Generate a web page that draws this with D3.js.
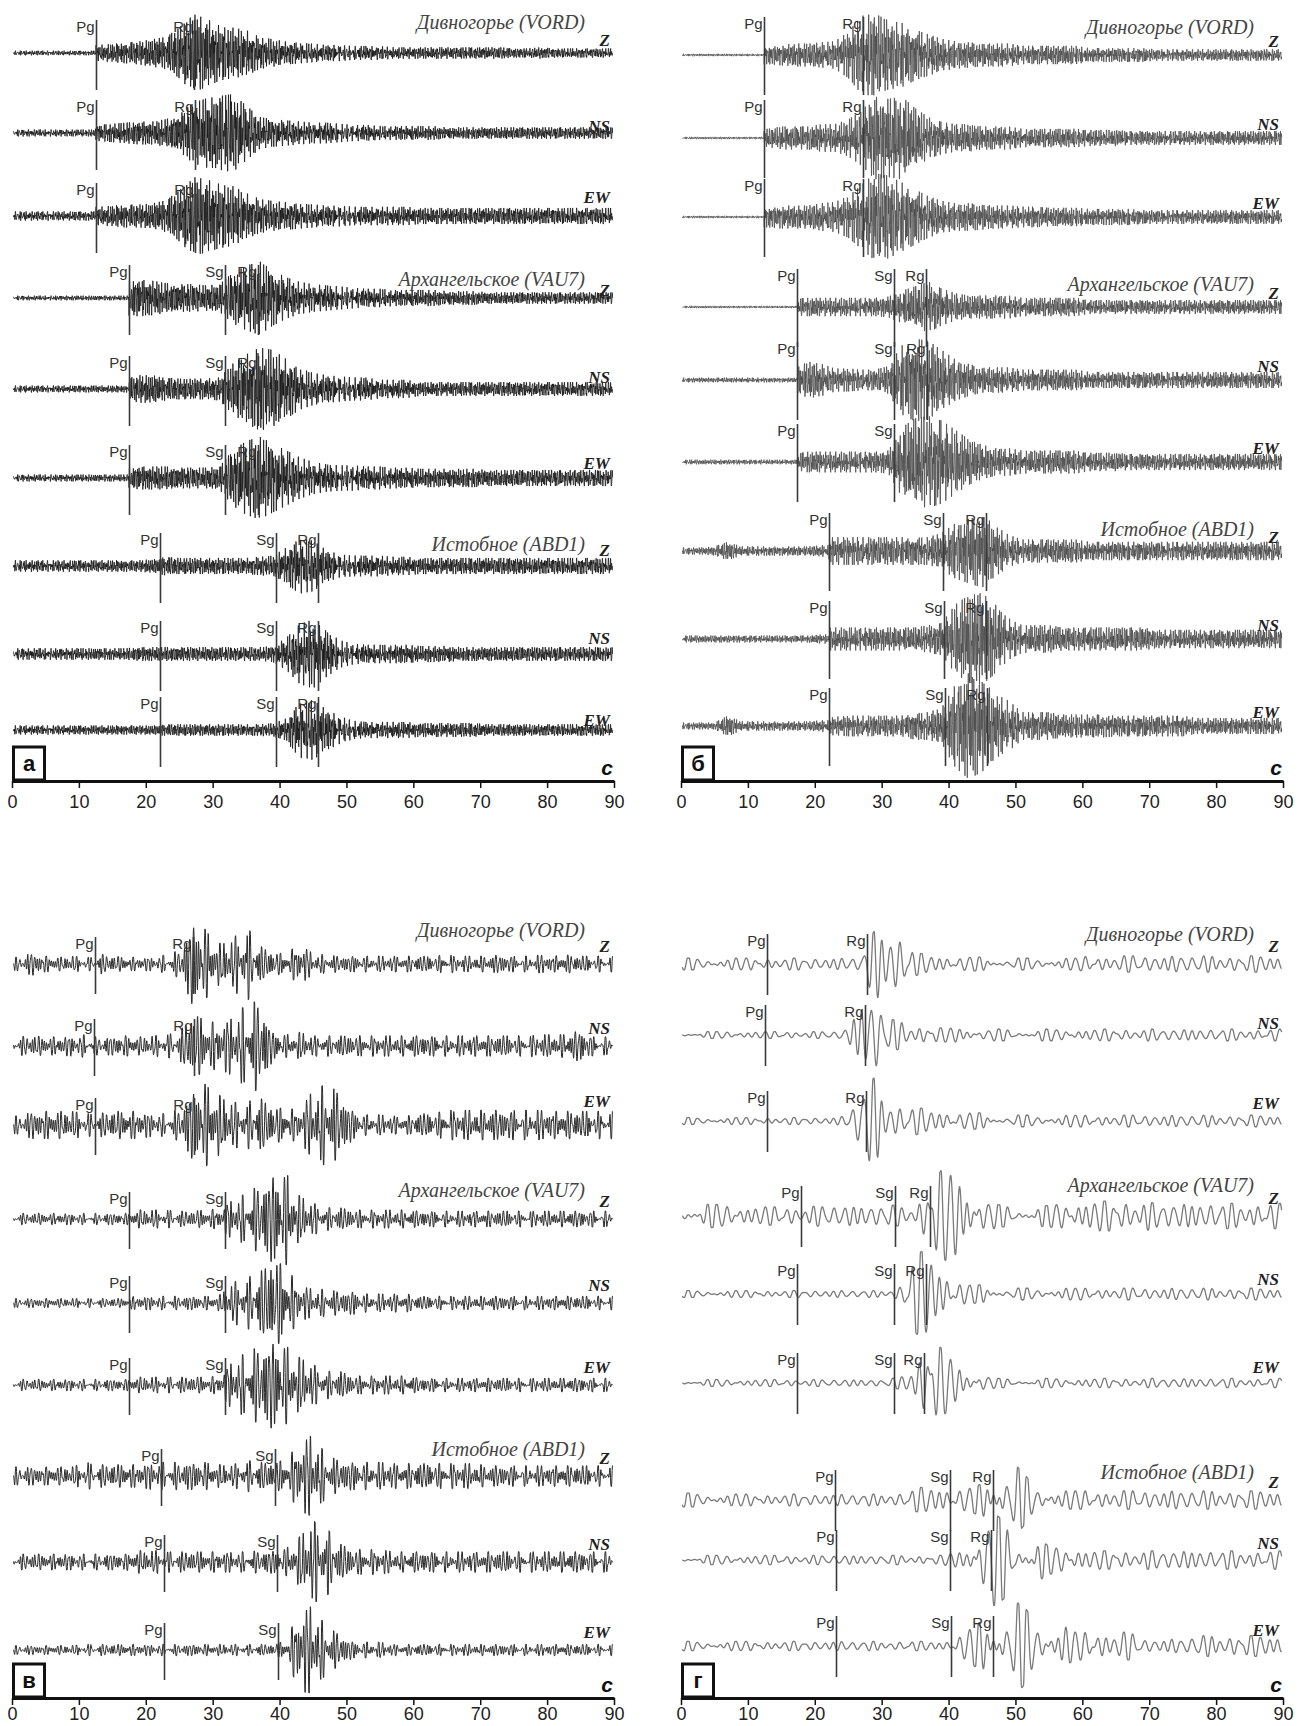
<!DOCTYPE html>
<html><head><meta charset="utf-8">
<script src="https://cdn.jsdelivr.net/npm/d3@7"></script>
<style>body{margin:0;background:#fff}svg{display:block}</style></head>
<body><svg id="chart" width="1306" height="1726"></svg>
<script>
// ---------------- DATA ----------------
const panelLetters = ["а", "б", "в", "г"];
const stations = ["Дивногорье (VORD)", "Архангельское (VAU7)", "Истобное (ABD1)"];
const components = ["Z", "NS", "EW"];
const tickValues = [0, 10, 20, 30, 40, 50, 60, 70, 80, 90];
const axisUnit = "с";

// phase arrival times, s: [Pg, Sg, Rg] per trace (null = not marked)
const phasesA = [[12.5,null,27.2],[12.5,null,27.3],[12.5,null,27.3],
                 [17.5,31.8,36.8],[17.5,31.8,36.8],[17.5,31.8,36.8],
                 [22.2,39.5,45.7],[22.2,39.5,45.7],[22.2,39.5,45.8]];
const phasesB = [[12.4,null,27.2],[12.4,null,27.2],[12.4,null,27.2],
                 [17.4,31.8,36.6],[17.4,31.8,36.8],[17.4,31.8,null],
                 [22.1,39.2,45.6],[22.1,39.3,45.6],[22.2,39.5,45.7]];
const phasesC = [[12.4,null,27.0],[12.2,null,27.2],[12.4,null,27.2],
                 [17.5,31.8,null],[17.5,31.8,null],[17.5,31.8,null],
                 [22.3,39.3,null],[22.7,39.6,null],[22.7,39.8,null]];
const phasesD = [[12.8,null,27.8],[12.6,null,27.5],[12.9,null,27.6],
                 [17.9,32.0,37.2],[17.4,31.8,36.6],[17.4,31.8,36.4],
                 [23.0,40.2,46.6],[23.1,40.2,46.4],[23.1,40.3,46.6]];

// amplitude envelopes (half-amplitude, px) read per 2-s window, 0–90 s
const envA = [
 [2,2,2,2,2, 2,7,8,9,10, 12,14,22,34,30, 24,22,20,14,12, 10,9,8,7,7, 6,6,6,5,5, 5,5,5,5,5, 5,5,4,4,5, 4,4,4,4,4],
 [3,3,3,3,3, 3,7,8,9,10, 10,12,16,26,30, 32,34,24,14,12, 11,10,9,9,8, 7,7,6,6,6, 6,6,5,5,5, 5,5,5,5,5, 5,5,5,5,5],
 [4,4,4,4,4, 4,8,9,10,10, 11,14,22,34,32, 28,26,20,15,13, 12,11,10,9,9, 8,8,8,8,8, 7,7,7,7,7, 7,7,7,7,7, 7,7,7,7,7],
 [2,2,2,2,2, 2,2,2,15,16, 15,13,12,12,11, 12,22,28,32,24, 18,14,12,11,10, 9,8,8,7,7, 7,7,6,6,6, 5,5,5,5,5, 5,5,5,5,5],
 [3,3,3,3,3, 3,3,3,9,12, 12,10,9,9,9, 10,22,30,36,34, 26,18,14,12,11, 10,10,8,8,8, 6,6,6,6,6, 6,6,6,6,6, 6,6,6,6,6],
 [3,3,3,3,3, 3,3,3,8,10, 10,10,9,9,9, 10,24,32,36,30, 24,18,14,12,11, 11,10,10,9,9, 8,8,8,8,8, 7,7,7,7,7, 7,7,7,7,7],
 [5,5,5,5,5, 5,5,5,5,5, 6,8,7,7,7, 7,7,7,8,9, 16,24,22,14,10, 9,9,9,8,8, 7,7,7,7,7, 7,7,7,7,7, 7,7,7,7,7],
 [5,5,5,5,5, 5,5,5,5,6, 6,6,6,6,6, 6,6,6,6,7, 14,26,30,20,12, 9,8,8,8,8, 7,7,7,6,6, 6,6,6,6,6, 6,6,6,6,6],
 [4,4,4,4,4, 4,4,4,4,4, 4,5,5,5,5, 5,5,5,5,6, 10,24,26,18,12, 8,7,7,7,7, 6,6,6,6,6, 5,5,5,5,5, 5,5,5,5,5]
];
const envB = [
 [1,1,1,1,1, 1,8,9,10,10, 11,12,20,34,36, 30,28,22,18,14, 12,11,10,10,10, 8,8,8,8,8, 6,6,6,6,6, 5,5,5,5,5, 5,5,5,5,5],
 [1,1,1,1,1, 1,8,10,10,10, 12,12,16,24,36, 34,36,26,18,14, 12,12,10,10,10, 8,8,8,8,8, 7,7,7,6,6, 6,6,6,6,6, 6,6,6,6,6],
 [1,1,1,1,1, 1,9,10,10,10, 12,13,18,28,38, 36,30,24,18,14, 12,12,11,10,10, 9,9,8,8,8, 7,7,7,7,6, 6,6,6,6,6, 6,6,6,6,6],
 [1,1,1,1,1, 1,1,1,7,8, 8,8,8,8,8, 9,14,18,22,16, 12,10,10,10,10, 8,8,8,8,8, 6,6,6,6,6, 6,6,6,6,6, 6,6,6,6,6],
 [2,2,2,2,2, 2,2,2,10,16, 14,10,10,9,9, 12,30,36,34,26, 18,14,11,11,11, 9,9,9,9,9, 7,7,7,7,7, 7,7,7,7,7, 7,7,7,7,7],
 [2,2,2,2,2, 2,2,2,7,9, 9,9,9,9,9, 10,30,38,40,36, 28,20,15,12,12, 10,10,10,10,10, 8,8,8,7,7, 7,7,7,7,7, 7,7,7,7,7],
 [3,3,4,8,4, 4,4,4,4,4, 5,12,12,12,12, 12,12,12,12,16, 24,28,32,22,14, 10,10,10,10,10, 8,8,8,8,8, 8,8,8,8,8, 8,8,8,8,8],
 [3,3,3,3,3, 3,3,3,3,3, 4,10,10,10,10, 10,10,10,12,14, 30,38,40,30,18, 12,12,12,10,10, 10,10,10,10,10, 8,8,8,8,8, 8,8,8,8,8],
 [3,3,3,9,4, 4,4,4,4,4, 5,8,9,9,9, 9,9,12,12,16, 36,46,40,28,22, 12,12,12,10,10, 10,10,9,9,9, 9,9,9,7,7, 7,7,7,7,7]
];
const envC = [
 [6,10,7,6,7, 6,9,7,6,6, 6,8,12,36,30, 18,22,34,16,10, 9,18,9,8,7, 7,7,7,7,7, 7,7,8,7,7, 7,8,7,7,8, 7,8,7,7,7],
 [8,9,8,8,9, 10,8,8,9,8, 9,10,12,28,22, 20,26,36,40,12, 10,12,9,9,9, 9,9,9,9,9, 9,9,9,9,9, 9,9,9,9,10, 10,10,14,8,8],
 [8,12,12,12,12, 10,10,12,12,12, 10,10,14,30,36, 26,20,20,24,16, 14,14,30,36,28, 12,9,9,8,8, 10,10,13,13,13, 13,13,13,13,13, 12,12,12,12,12],
 [5,5,5,5,5, 5,5,5,6,8, 8,8,7,7,8, 9,18,22,30,38, 40,20,14,10,10, 8,8,8,8,8, 7,7,7,7,7, 7,7,7,7,7, 7,7,7,7,7],
 [4,4,4,4,4, 4,4,4,5,6, 6,6,6,6,6, 7,18,22,26,40, 30,16,12,12,10, 10,8,8,8,8, 6,6,6,6,6, 6,6,6,6,6, 6,6,6,6,6],
 [5,5,5,5,5, 5,5,5,6,7, 7,7,7,7,7, 8,22,28,34,38, 34,24,18,12,12, 8,8,8,8,8, 6,6,6,6,6, 6,6,6,6,6, 6,6,6,6,6],
 [8,8,8,8,8, 12,10,10,10,10, 12,12,12,12,12, 10,10,14,12,12, 14,30,36,18,14, 12,12,12,11,11, 11,11,11,11,11, 9,9,9,9,9, 9,9,9,9,9],
 [7,7,7,7,7, 7,7,7,7,10, 10,9,9,9,9, 9,9,9,10,10, 12,22,36,30,16, 11,11,11,9,9, 9,9,9,9,9, 9,9,9,9,9, 9,9,9,9,9],
 [4,4,4,4,4, 5,5,5,5,5, 5,5,5,5,5, 5,5,5,5,5, 8,36,38,20,14, 7,7,7,5,5, 5,5,5,5,5, 5,5,5,5,5, 5,5,5,5,5]
];
const envD = [
 [5,5,5,5,5, 5,5,5,5,5, 5,5,5,7,30, 38,22,10,8,8, 6,6,6,5,5, 5,5,5,5,5, 7,7,7,7,7, 7,7,7,7,7, 7,7,7,7,7],
 [3,3,3,3,3, 3,3,3,3,3, 3,3,6,30,36, 14,12,8,8,6, 6,6,6,5,5, 5,5,5,5,5, 5,5,5,5,5, 5,5,5,5,5, 5,5,5,5,5],
 [3,3,3,3,3, 3,3,3,3,3, 3,3,5,30,38, 20,12,12,10,10, 7,7,7,5,5, 5,5,5,5,5, 5,5,5,5,5, 5,5,5,5,5, 5,5,5,5,5],
 [10,10,10,10,10, 8,8,8,8,8, 9,9,9,9,9, 10,8,8,30,40, 34,28,20,10,9, 9,9,9,13,13, 13,13,13,13,13, 11,11,11,11,11, 11,11,11,11,11],
 [3,3,3,3,3, 3,3,3,3,3, 3,3,3,3,3, 3,8,34,40,24, 12,8,8,8,5, 5,5,5,5,5, 5,5,5,5,5, 5,5,5,5,5, 5,5,5,5,5],
 [3,3,3,3,3, 3,3,3,3,3, 3,3,3,3,3, 3,6,20,38,30, 16,10,10,4,4, 4,4,4,4,4, 4,4,4,4,4, 4,4,4,4,4, 4,4,4,4,4],
 [6,6,6,5,5, 5,5,5,5,5, 5,5,5,5,5, 6,6,10,12,12, 10,10,14,34,38, 24,12,12,8,8, 8,8,8,8,8, 8,8,8,8,8, 8,8,8,8,8],
 [4,4,4,4,4, 4,4,4,4,4, 4,4,4,4,4, 4,4,4,4,4, 6,12,36,40,30, 20,20,12,12,12, 8,8,8,8,8, 8,8,8,8,8, 8,8,8,8,8],
 [4,4,4,4,4, 4,4,4,4,4, 4,4,4,4,4, 4,4,4,4,4, 8,14,22,32,40, 36,22,18,18,12, 12,12,12,12,6, 6,6,6,9,9, 9,9,9,9,9]
];

// ---------------- LAYOUT / STYLE ----------------
const panelLayout = [
  {letter: panelLetters[0], env: envA, phases: phasesA, x0: 12, x1: 614, axisY: 781, pad: 7,
   baselines: [53,133,216,298,389,478,566,654,730], color: "#141414", width: 0.8, rate: 40,
   waves: [[2.3,0.7],[3.17,1],[4.41,0.9],[5.63,0.8],[6.89,0.7],[8.27,0.6],[9.71,0.5]],
   mk: [-33, 37], titleDy: [-24,-12,-15], compDy: [-7,-1,-13,-2,-6,-9,-10,-10,-4]},
  {letter: panelLetters[1], env: envB, phases: phasesB, x0: 681, x1: 1283, axisY: 781, pad: 7,
   baselines: [55,138,217,307,380,462,551,639,726], color: "#4a4a4a", width: 0.8, rate: 40,
   waves: [[2.6,0.7],[3.43,1],[4.77,0.9],[5.93,0.8],[7.19,0.7],[8.57,0.6],[10.1,0.5]],
   mk: [-38, 40], titleDy: [-21,-16,-15], compDy: [-8,-8,-8,-8,-8,-8,-8,-8,-8]},
  {letter: panelLetters[2], env: envC, phases: phasesC, x0: 12, x1: 614, axisY: 1698, pad: 2,
   baselines: [964,1046,1125,1219,1303,1385,1476,1562,1650], color: "#2a2a2a", width: 1, rate: 25,
   waves: [[1.31,0.6],[1.77,1],[2.23,0.9],[2.86,0.7],[3.41,0.5]],
   mk: [-27, 30], titleDy: [-27,-22,-20], compDy: [-12,-12,-18,-12,-12,-12,-12,-12,-12]},
  {letter: panelLetters[3], env: envD, phases: phasesD, x0: 681, x1: 1283, axisY: 1698, pad: 2,
   baselines: [964,1035,1121,1216,1294,1383,1500,1560,1646], color: "#7a7a7a", width: 1.3, rate: 20,
   waves: [[0.57,0.6],[0.69,1],[0.83,0.6],[1.01,0.35]],
   mk: [-30, 31], titleDy: [-23,-24,-21], compDy: [-12,-6,-12,-12,-9,-10,-12,-11,-10]}
];

const svg = d3.select("#chart");

function amplitude(env, t, pg) {
  const pgBin = Math.floor(pg / 2);
  let lo = 0, hi = env.length - 1;
  if (t < pg) hi = Math.max(0, pgBin - 1); else lo = pgBin;
  const u = t / 2 - 0.5;
  const i0 = Math.floor(u), f = u - i0, i1 = i0 + 1;
  const c = i => env[Math.max(lo, Math.min(hi, i))];
  return c(i0) * (1 - f) + c(i1) * f;
}
// oscillation texture of the trace (the envelope above carries the read amplitudes)
function oscillation(t, waves, seed) {
  let s = 0, n = 0;
  waves.forEach(([fr, a], k) => {
    s += a * Math.sin(2 * Math.PI * fr * t + seed * (k + 1) * 1.37 + k * 0.91);
    n += a * a;
  });
  const v = s / Math.sqrt(n / 2) / 1.6;
  return Math.max(-1.15, Math.min(1.15, v));
}

panelLayout.forEach((P, pi) => {
  const x = d3.scaleLinear().domain([0, 90]).range([P.x0, P.x1]);
  const g = svg.append("g");

  P.env.forEach((env, ti) => {
    const base = P.baselines[ti];
    const y = d3.scaleLinear().domain([-50, 50]).range([base + 50, base - 50]);
    const ph = P.phases[ti];
    const n = Math.round(89.6 * P.rate);
    const pts = d3.range(n + 1).map(i => {
      const t = 0.2 + i / P.rate;
      return [t, amplitude(env, t, ph[0]) * oscillation(t, P.waves, ti * 2.3 + pi * 0.7 + 1)];
    });
    const line = d3.line().x(d => x(d[0])).y(d => y(d[1]));
    if (pi === 3) line.curve(d3.curveMonotoneX);
    g.append("path").attr("d", line(pts)).attr("fill", "none")
      .attr("stroke", P.color).attr("stroke-width", P.width).attr("stroke-linejoin", "round");

    // phase markers
    const names = ["Pg", "Sg", "Rg"];
    ph.forEach((tp, k) => {
      if (tp == null) return;
      const xp = Math.round(x(tp)) + 0.5;
      g.append("line").attr("x1", xp).attr("x2", xp)
        .attr("y1", y(-P.mk[0])).attr("y2", y(-P.mk[1]))
        .attr("stroke", "#3a3a3a").attr("stroke-width", 1.6);
      g.append("text").attr("x", xp - 2).attr("y", y(-P.mk[0]) + 12)
        .attr("text-anchor", "end").attr("font-family", "Liberation Sans, Arial, sans-serif")
        .attr("font-size", 15).attr("fill", "#333").text(names[k]);
    });

    // component label
    g.append("text").attr("x", x(90) - 4).attr("y", base + P.compDy[ti])
      .attr("text-anchor", "end").attr("font-family", "Liberation Serif, Times New Roman, serif")
      .attr("font-style", "italic").attr("font-weight", "bold").attr("font-size", 17)
      .attr("fill", "#222").text(components[ti % 3]);

    // station label
    if (ti % 3 === 0) {
      g.append("text").attr("x", x(90) - 29).attr("y", base + P.titleDy[ti / 3])
        .attr("text-anchor", "end").attr("font-family", "Liberation Serif, Times New Roman, serif")
        .attr("font-style", "italic").attr("font-size", 20).attr("fill", "#444")
        .text(stations[ti / 3]);
    }
  });

  // axis
  const ax = g.append("g").attr("transform", `translate(0,${P.axisY})`)
    .call(d3.axisBottom(x).tickValues(tickValues).tickSize(7).tickSizeOuter(0).tickPadding(P.pad));
  ax.select(".domain").attr("stroke", "#111").attr("stroke-width", 3);
  ax.selectAll(".tick line").attr("stroke", "#111").attr("stroke-width", 1.5);
  ax.selectAll(".tick text").attr("font-family", "Liberation Sans, Arial, sans-serif")
    .attr("font-size", 18).attr("fill", "#222");

  // panel letter box
  g.append("rect").attr("x", P.x0 + 1.5).attr("y", P.axisY - 34).attr("width", 31).attr("height", 33)
    .attr("fill", "#fff").attr("stroke", "#111").attr("stroke-width", 3);
  g.append("text").attr("x", P.x0 + 17).attr("y", P.axisY - 10).attr("text-anchor", "middle")
    .attr("font-family", "Liberation Sans, Arial, sans-serif").attr("font-weight", "bold")
    .attr("font-size", 22).attr("fill", "#111").text(P.letter);
  // unit
  g.append("text").attr("x", x(90) - 1).attr("y", P.axisY - 6).attr("text-anchor", "end")
    .attr("font-family", "Liberation Sans, Arial, sans-serif").attr("font-weight", "bold")
    .attr("font-style", "italic").attr("font-size", 21).attr("fill", "#111").text(axisUnit);
});
</script></body></html>
